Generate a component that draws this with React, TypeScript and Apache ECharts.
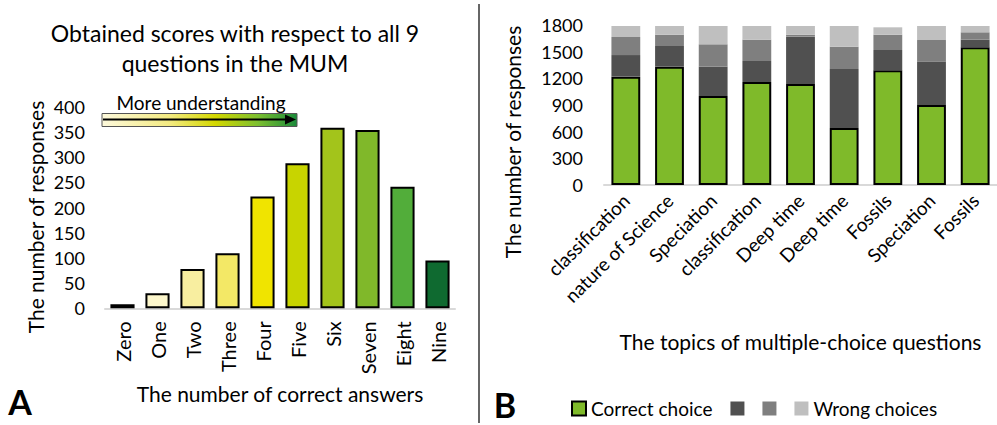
import React, { useEffect, useRef } from 'react';
import * as echarts from 'echarts';

// Panel A: distribution of total scores
const scoreCategories = ['Zero', 'One', 'Two', 'Three', 'Four', 'Five', 'Six', 'Seven', 'Eight', 'Nine'];
const scoreCounts = [8, 30, 78, 109, 222, 288, 358, 354, 241, 95];
const scoreColors = ['#cfcfcf', '#fdf7cc', '#f8eea0', '#f3e866', '#f0e400', '#c8d400', '#a3c41b', '#80b82a', '#52ad3a', '#0f6a30'];
const scoreTicks = { min: 0, max: 400, interval: 50 };

// Panel B: responses per multiple-choice question
const topicCategories = ['classification', 'nature of Science', 'Speciation', 'classification', 'Deep time', 'Deep time', 'Fossils', 'Speciation', 'Fossils'];
const correctChoice = [1219, 1331, 1001, 1159, 1136, 641, 1290, 900, 1549];
const wrongChoiceA = [243, 233, 330, 236, 533, 664, 229, 488, 86];
const wrongChoiceB = [203, 127, 252, 240, 22, 251, 172, 243, 83];
const wrongChoiceC = [124, 98, 206, 154, 98, 233, 83, 158, 71];
const topicTicks = { min: 0, max: 1800, interval: 300 };

const FONT = 'Lato, "Open Sans", sans-serif';
const INK = '#000';

export default function App() {
  const ref = useRef<HTMLDivElement>(null);

  useEffect(() => {
    if (!ref.current) return;
    const chart = echarts.init(ref.current, undefined, { renderer: 'svg' });

    const axisLine = { show: true, lineStyle: { color: '#d9d9d9', width: 2 } };
    const plain = (v: number) => String(v);

    chart.setOption({
      animation: false,
      textStyle: { fontFamily: FONT, color: INK },
      grid: [
        { left: 105, top: 106.7, width: 350, height: 201.6 },
        { left: 604, top: 25, width: 398, height: 160 },
      ],
      xAxis: [
        {
          type: 'category',
          gridIndex: 0,
          data: scoreCategories,
          axisLine,
          axisTick: { show: false },
          axisLabel: { rotate: 90, margin: 13, fontSize: 20, color: INK, fontFamily: FONT },
          name: 'The number of correct answers',
          nameLocation: 'middle',
          nameGap: 75,
          nameTextStyle: { fontSize: 21, color: INK, fontFamily: FONT },
        },
        {
          type: 'category',
          gridIndex: 1,
          data: topicCategories,
          axisLine,
          axisTick: { show: false },
          axisLabel: { rotate: 45, margin: 12, fontSize: 19, color: INK, fontFamily: FONT, interval: 0 },
          name: 'The topics of multiple-choice questions',
          nameLocation: 'middle',
          nameGap: 146,
          nameTextStyle: { fontSize: 21, color: INK, fontFamily: FONT },
        },
      ],
      yAxis: [
        {
          type: 'value',
          gridIndex: 0,
          ...scoreTicks,
          splitLine: { show: false },
          axisLine: { show: false },
          axisTick: { show: false },
          axisLabel: { margin: 20, fontSize: 18, color: INK, fontFamily: FONT, formatter: plain },
        },
        {
          type: 'value',
          gridIndex: 1,
          ...topicTicks,
          splitLine: { show: false },
          axisLine: { show: false },
          axisTick: { show: false },
          axisLabel: { margin: 21, fontSize: 18, color: INK, fontFamily: FONT, formatter: plain },
        },
      ],
      legend: {
        data: ['Correct choice', 'Wrong choice (1)', 'Wrong choice (2)', 'Wrong choices'],
        left: 566,
        top: 394,
        itemWidth: 14,
        itemHeight: 14,
        itemGap: 18,
        icon: 'rect',
        formatter: (n: string) => (n === 'Correct choice' || n === 'Wrong choices' ? n : ''),
        textStyle: { fontSize: 19, color: INK, fontFamily: FONT },
      },
      series: [
        {
          type: 'bar',
          xAxisIndex: 0,
          yAxisIndex: 0,
          barCategoryGap: '31%',
          itemStyle: { borderColor: '#000', borderWidth: 2 },
          data: scoreCounts.map((v, i) => ({ value: v, itemStyle: { color: scoreColors[i] } })),
        },
        {
          name: 'Correct choice',
          type: 'bar',
          stack: 'topics',
          xAxisIndex: 1,
          yAxisIndex: 1,
          barCategoryGap: '34%',
          itemStyle: { color: '#7fba2a', borderColor: '#000', borderWidth: 2 },
          data: correctChoice,
        },
        {
          name: 'Wrong choice (1)',
          type: 'bar',
          stack: 'topics',
          xAxisIndex: 1,
          yAxisIndex: 1,
          itemStyle: { color: '#505050' },
          data: wrongChoiceA,
        },
        {
          name: 'Wrong choice (2)',
          type: 'bar',
          stack: 'topics',
          xAxisIndex: 1,
          yAxisIndex: 1,
          itemStyle: { color: '#7f7f7f' },
          data: wrongChoiceB,
        },
        {
          name: 'Wrong choices',
          type: 'bar',
          stack: 'topics',
          xAxisIndex: 1,
          yAxisIndex: 1,
          itemStyle: { color: '#bfbfbf' },
          data: wrongChoiceC,
        },
      ],
      graphic: [
        {
          type: 'text',
          x: 235,
          y: 48,
          style: {
            text: 'Obtained scores with respect to all 9\nquestions in the MUM',
            align: 'center',
            verticalAlign: 'middle',
            fontSize: 23,
            lineHeight: 30,
            fontFamily: FONT,
            fill: INK,
          },
        },
        {
          type: 'rect',
          shape: { x: 102, y: 113.5, width: 195, height: 13 },
          style: {
            fill: new echarts.graphic.LinearGradient(0, 0, 1, 0, [
              { offset: 0, color: '#fdf9dc' },
              { offset: 0.35, color: '#f3ea80' },
              { offset: 0.58, color: '#d4d800' },
              { offset: 0.8, color: '#7cbf30' },
              { offset: 1, color: '#1a8a3a' },
            ]),
            stroke: '#555',
            lineWidth: 1,
          },
        },
        {
          type: 'line',
          shape: { x1: 103, y1: 119.5, x2: 287, y2: 119.5 },
          style: { stroke: '#000', lineWidth: 2 },
        },
        {
          type: 'polygon',
          shape: { points: [[285, 114.5], [296, 119.5], [285, 124.5]] },
          style: { fill: '#000' },
        },
        {
          type: 'text',
          x: 201,
          y: 102,
          style: { text: 'More understanding', align: 'center', verticalAlign: 'middle', fontSize: 19, fontFamily: FONT, fill: INK },
        },
        {
          type: 'text',
          x: 35,
          y: 217,
          rotation: Math.PI / 2,
          style: { text: 'The number of responses', align: 'center', verticalAlign: 'middle', fontSize: 21, fontFamily: FONT, fill: INK },
        },
        {
          type: 'text',
          x: 512,
          y: 142,
          rotation: Math.PI / 2,
          style: { text: 'The number of responses', align: 'center', verticalAlign: 'middle', fontSize: 21, fontFamily: FONT, fill: INK },
        },
        {
          type: 'line',
          shape: { x1: 479, y1: 4, x2: 479, y2: 423 },
          style: { stroke: '#333', lineWidth: 1.5 },
        },
        {
          type: 'text',
          x: 20,
          y: 401,
          style: { text: 'A', align: 'center', verticalAlign: 'middle', fontSize: 34, fontWeight: 'bold', fontFamily: FONT, fill: INK },
        },
        {
          type: 'text',
          x: 505,
          y: 404,
          style: { text: 'B', align: 'center', verticalAlign: 'middle', fontSize: 34, fontWeight: 'bold', fontFamily: FONT, fill: INK },
        },
      ],
    });

    return () => chart.dispose();
  }, []);

  return <div ref={ref} style={{ position: 'fixed', left: 0, top: 0, width: 997, height: 425, background: '#fff' }} />;
}
